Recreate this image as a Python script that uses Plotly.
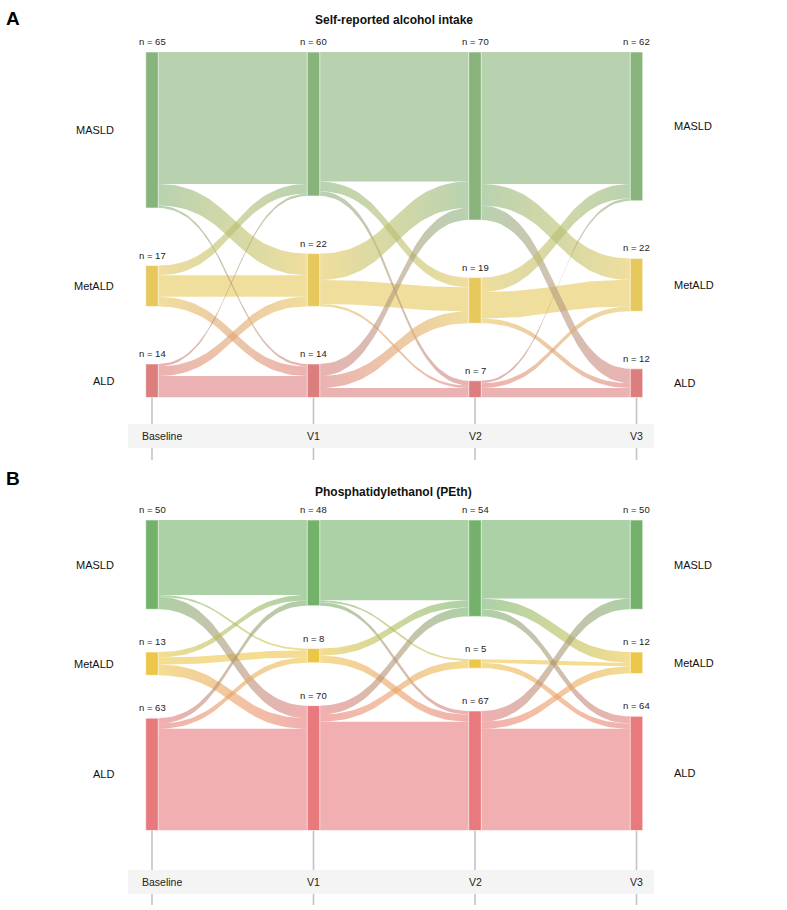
import numpy as np
import plotly.graph_objects as go

W, H = 787, 910
FONT = "Liberation Sans, Arial, sans-serif"

categories = ["MASLD", "MetALD", "ALD"]
visits = ["Baseline", "V1", "V2", "V3"]

# ---- Panel A: self-reported alcohol intake ----
title_a = "Self-reported alcohol intake"
counts_a = [[65, 17, 14], [60, 22, 14], [70, 19, 7], [62, 22, 12]]
flows_a = [
    [[55, 9, 1], [4, 9, 4], [1, 4, 9]],     # Baseline -> V1
    [[54, 4, 2], [11, 10, 1], [5, 5, 4]],   # V1 -> V2
    [[55, 9, 6], [6, 11, 2], [1, 2, 4]],    # V2 -> V3
]

# ---- Panel B: PEth ----
title_b = "Phosphatidylethanol (PEth)"
counts_b = [[50, 13, 63], [48, 8, 70], [54, 5, 67], [50, 12, 64]]
flows_b = [
    [[42, 1, 7], [3, 4, 6], [3, 3, 57]],
    [[45, 1, 2], [4, 0, 4], [5, 4, 61]],
    [[44, 6, 4], [0, 2, 3], [6, 4, 57]],
]

colors_a = {"MASLD": (136, 180, 123), "MetALD": (230, 200, 92), "ALD": (220, 126, 126)}
colors_b = {"MASLD": (116, 178, 108), "MetALD": (236, 198, 70), "ALD": (232, 121, 125)}
LINK_ALPHA = 0.6
GAP = 24  # gap between nodes, in count units

# pixel geometry (layout only)
COL0_PX, COL_STEP_PX, NODE_W_PX = 152.0, 161.5, 12.5
HW = NODE_W_PX / 2 / COL_STEP_PX
XR = [-0.9, 3.9]
xdom = [(COL0_PX + XR[0] * COL_STEP_PX) / W, (COL0_PX + XR[1] * COL_STEP_PX) / W]

panels = [
    dict(key="a", letter="A", title=title_a, counts=counts_a, flows=flows_a, colors=colors_a,
         top=52, scale=2.4, letter_y=18, title_y=20, strip=(424, 448), line_end=460, xa="x", ya="y"),
    dict(key="b", letter="B", title=title_b, counts=counts_b, flows=flows_b, colors=colors_b,
         top=520, scale=1.785, letter_y=478, title_y=492, strip=(870, 894), line_end=905, xa="x2", ya="y2"),
]


def py(px):
    return 1 - px / H


def rgba(c, a):
    return f"rgba({c[0]},{c[1]},{c[2]},{a})"


def bez(x0, x1, y0, y1, t):
    xm = (x0 + x1) / 2
    x = (1 - t) ** 3 * x0 + 3 * (1 - t) ** 2 * t * xm + 3 * (1 - t) * t ** 2 * xm + t ** 3 * x1
    y = (1 - t) ** 3 * y0 + 3 * (1 - t) ** 2 * t * y0 + 3 * (1 - t) * t ** 2 * y1 + t ** 3 * y1
    return x, y


fig = go.Figure()
annotations = []
shapes = []
layout_axes = {}
t = np.linspace(0, 1, 41)

for p in panels:
    counts, flows, cols = p["counts"], p["flows"], p["colors"]
    ncat = len(categories)
    tops = []
    for col in counts:
        y, tt = 0, []
        for c in col:
            tt.append(y)
            y += c + GAP
        tops.append(tt)
    total = sum(counts[0]) + GAP * (ncat - 1)
    bottom_px = p["top"] + total * p["scale"]

    axn = p["xa"].replace("x", "")
    layout_axes["xaxis" + axn] = dict(domain=xdom, range=XR, visible=False, fixedrange=True,
                                      anchor=p["ya"])
    layout_axes["yaxis" + axn] = dict(domain=[py(bottom_px), py(p["top"])], range=[total, 0],
                                      visible=False, fixedrange=True, anchor=p["xa"])

    # links
    for k, mat in enumerate(flows):
        out_off = [0] * ncat
        in_off = [0] * ncat
        same, cross = [], []
        for s in range(ncat):
            for d in range(ncat):
                v = mat[s][d]
                if v == 0:
                    continue
                y0 = tops[k][s] + out_off[s]
                out_off[s] += v
                y1 = tops[k + 1][d] + in_off[d]
                in_off[d] += v
                (same if s == d else cross).append((s, d, y0, y1, v))
        for s, d, y0, y1, v in same + cross:
            x0, x1 = k + HW, k + 1 - HW
            xt, yt = bez(x0, x1, y0, y1, t)
            xb, yb = bez(x0, x1, y0 + v, y1 + v, t)
            xs = np.concatenate([xt, xb[::-1], xt[:1]])
            ys = np.concatenate([yt, yb[::-1], yt[:1]])
            c0, c1 = cols[categories[s]], cols[categories[d]]
            kw = dict(x=xs, y=ys, mode="lines", line=dict(width=0), fill="toself",
                      hoverinfo="skip", showlegend=False, xaxis=p["xa"], yaxis=p["ya"])
            if s == d:
                kw["fillcolor"] = rgba(c0, LINK_ALPHA)
            else:
                kw["fillgradient"] = dict(type="horizontal",
                                          colorscale=[[0, rgba(c0, LINK_ALPHA)], [1, rgba(c1, LINK_ALPHA)]])
            fig.add_trace(go.Scatter(**kw))

    # nodes
    for i, col in enumerate(counts):
        for j, n in enumerate(col):
            y0, y1 = tops[i][j], tops[i][j] + n
            c = cols[categories[j]]
            fig.add_trace(go.Scatter(
                x=[i - HW, i + HW, i + HW, i - HW, i - HW], y=[y0, y0, y1, y1, y0],
                mode="lines", line=dict(width=0.8, color="rgba(255,255,255,0.7)"), fill="toself",
                fillcolor=rgba(c, 1), hoverinfo="skip", showlegend=False,
                xaxis=p["xa"], yaxis=p["ya"]))
            annotations.append(dict(x=i, y=y0, xref=p["xa"], yref=p["ya"], text=f"n = {n}",
                                    showarrow=False, xanchor="center", yanchor="bottom", yshift=3,
                                    font=dict(size=9.5, color="#222", family=FONT)))

    # category labels
    for j, cat in enumerate(categories):
        yc0 = tops[0][j] + counts[0][j] / 2
        yc3 = tops[-1][j] + counts[-1][j] / 2
        annotations.append(dict(x=0 - HW, y=yc0, xref=p["xa"], yref=p["ya"], text=cat, showarrow=False,
                                xanchor="right", yanchor="middle", xshift=-30,
                                font=dict(size=11, color="#111", family=FONT)))
        annotations.append(dict(x=len(visits) - 1 + HW, y=yc3, xref=p["xa"], yref=p["ya"], text=cat,
                                showarrow=False, xanchor="left", yanchor="middle", xshift=29,
                                font=dict(size=11, color="#111", family=FONT)))

    # axis guide lines and strip
    s_top, s_bot = p["strip"]
    for i in range(len(visits)):
        shapes.append(dict(type="line", xref=p["xa"], yref="paper", x0=i, x1=i,
                           y0=py(bottom_px), y1=py(p["line_end"]), line=dict(color="#c4c4c4", width=1.6),
                           layer="below"))
    shapes.append(dict(type="rect", xref="paper", yref="paper", x0=128 / W, x1=654 / W,
                       y0=py(s_bot), y1=py(s_top), fillcolor="#f4f4f4", line=dict(width=0), layer="below"))
    for i, v in enumerate(visits):
        if i == 0:
            annotations.append(dict(x=i, y=py((s_top + s_bot) / 2), xref=p["xa"], yref="paper", text=v,
                                    showarrow=False, xanchor="left", yanchor="middle", xshift=-12,
                                    font=dict(size=10.5, color="#222", family=FONT)))
        else:
            annotations.append(dict(x=i, y=py((s_top + s_bot) / 2), xref=p["xa"], yref="paper", text=v,
                                    showarrow=False, xanchor="center", yanchor="middle",
                                    font=dict(size=10.5, color="#222", family=FONT)))

    # panel letter and title
    annotations.append(dict(x=4 / W, y=py(p["letter_y"]), xref="paper", yref="paper", text=f"<b>{p['letter']}</b>",
                            showarrow=False, xanchor="left", yanchor="middle",
                            font=dict(size=19, color="#000", family=FONT)))
    annotations.append(dict(x=0.5, y=py(p["title_y"]), xref="paper", yref="paper", text=f"<b>{p['title']}</b>",
                            showarrow=False, xanchor="center", yanchor="middle",
                            font=dict(size=12, color="#111", family=FONT)))

fig.update_layout(width=W, height=H, margin=dict(l=0, r=0, t=0, b=0), paper_bgcolor="white",
                  plot_bgcolor="white", showlegend=False, annotations=annotations, shapes=shapes,
                  **layout_axes)
fig.write_html("out.html", config={"displayModeBar": False},
               post_script="document.body.style.margin='0';document.body.style.padding='0';")
